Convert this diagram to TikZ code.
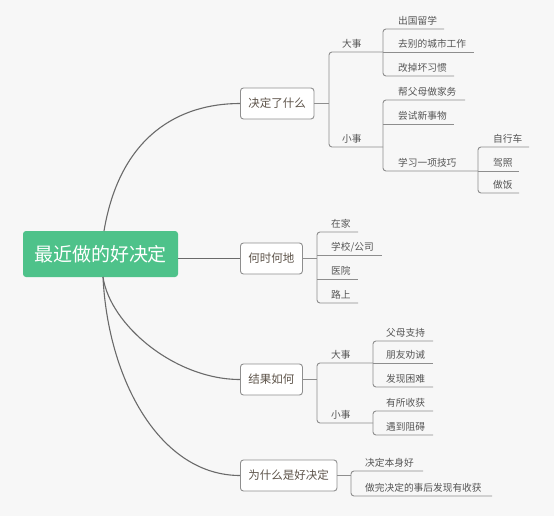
\documentclass[tikz,border=0pt]{standalone}
\usepackage{fontspec}
\setmainfont{Noto Sans CJK SC}
\definecolor{bg}{HTML}{F7F7F7}
\definecolor{rootgreen}{HTML}{4EC28A}
\definecolor{curvec}{HTML}{6A6A6A}
\definecolor{linec}{HTML}{8E8E8E}
\definecolor{leaftext}{HTML}{555555}
\definecolor{boxtext}{HTML}{5E544A}
\newcommand\lf[6]{%
  \node[leaf] (#1) at (#3,#5-4.5) {#6};
  \coordinate (#1w) at (#2,#5);
  \coordinate (#1e) at (#4,#5);}
\begin{document}
\begin{tikzpicture}[x=1pt,y=-1pt,
  rootbox/.style={fill=rootgreen, rounded corners=3pt, minimum width=155pt, minimum height=46pt,
    text=white, font=\fontsize{19}{22}\selectfont, inner sep=0pt},
  topic/.style={draw=linec, line width=0.9pt, fill=white, rounded corners=3pt, minimum height=31pt,
    inner xsep=8pt, inner ysep=0pt, font=\fontsize{11.5}{13}\selectfont, text=boxtext, anchor=west},
  leaf/.style={anchor=base west, inner sep=0pt, font=\fontsize{9.7}{11}\selectfont, text=leaftext},
  curve/.style={draw=curvec, line width=1.1pt},
  link/.style={draw=linec, line width=1.2pt},
  uline/.style={draw=linec, line width=0.9pt},
  bracket/.style={uline, rounded corners=3pt}]
\fill[bg] (0,0) rectangle (554,516);
\useasboundingbox (0,0) rectangle (554,516);

% root and topics
\node[rootbox] (root) at (100.5,254) {最近做的好决定};
\node[topic] (t1) at (240,103.5) {决定了什么};
\node[topic] (t2) at (240,258.5) {何时何地};
\node[topic] (t3) at (240,379.5) {结果如何};
\node[topic] (t4) at (240,475.5) {为什么是好决定};

\coordinate (r1) at (104,231);
\coordinate (r3) at (103,277);
\draw[curve] (r1) .. controls (120,135) and (180,103.5) .. (t1.west);
\draw[curve] (t2.west -| root.east) -- (t2.west);
\draw[curve] (r3) .. controls (110,325) and (175,379.5) .. (t3.west);
\draw[curve] (r3) .. controls (108,380) and (160,475.5) .. (t4.west);

% branch 1
\coordinate (j1) at (329,103.5);
\draw[link] (t1.east) -- (j1);
\lf{a}{329}{342}{383}{52}{大事}
\lf{b}{329}{342}{383}{147}{小事}
\draw[bracket] (ae) -- (aw) -- (bw) -- (be);
\lf{a1}{383}{398}{444}{29}{出国留学}
\lf{a2}{383}{398}{474}{52}{去别的城市工作}
\lf{a3}{383}{398}{454}{76}{改掉坏习惯}
\draw[bracket] (a1e) -- (a1w) -- (a3w) -- (a3e);
\draw[uline] (a2w) -- (a2e);
\lf{b1}{383}{398}{465}{100}{帮父母做家务}
\lf{b2}{383}{398}{454}{124}{尝试新事物}
\lf{b3}{383}{398}{478}{171}{学习一项技巧}
\draw[bracket] (b1e) -- (b1w) -- (b3w) -- (b3e);
\draw[uline] (b2w) -- (b2e);
\lf{c1}{478}{493}{529}{147}{自行车}
\lf{c2}{478}{493}{519}{171}{驾照}
\lf{c3}{478}{493}{519}{193}{做饭}
\draw[bracket] (c1e) -- (c1w) -- (c3w) -- (c3e);
\draw[uline] (c2w) -- (c2e);

% branch 2
\coordinate (j2) at (317,258.5);
\draw[link] (t2.east) -- (j2);
\lf{d1}{317}{331}{358}{232}{在家}
\lf{d2}{317}{331}{382}{255}{学校/公司}
\lf{d3}{317}{331}{358}{279}{医院}
\lf{d4}{317}{331}{358}{303}{路上}
\draw[bracket] (d1e) -- (d1w) -- (d4w) -- (d4e);
\draw[uline] (d2w) -- (d2e);
\draw[uline] (d3w) -- (d3e);

% branch 3
\coordinate (j3) at (317,379.5);
\draw[link] (t3.east) -- (j3);
\lf{e}{317}{331}{373}{363}{大事}
\lf{f}{317}{331}{373}{423}{小事}
\draw[bracket] (ee) -- (ew) -- (fw) -- (fe);
\lf{e1}{373}{386}{433}{341}{父母支持}
\lf{e2}{373}{386}{433}{363}{朋友劝诫}
\lf{e3}{373}{386}{433}{387}{发现困难}
\draw[bracket] (e1e) -- (e1w) -- (e3w) -- (e3e);
\draw[uline] (e2w) -- (e2e);
\lf{f1}{373}{386}{433}{411}{有所收获}
\lf{f2}{373}{386}{433}{435}{遇到阻碍}
\draw[bracket] (f1e) -- (f1w) -- (f2w) -- (f2e);

% branch 4
\coordinate (j4) at (351,475.5);
\draw[link] (t4.east) -- (j4);
\lf{g1}{351}{365}{423}{471}{决定本身好}
\lf{g2}{351}{365}{492}{496}{做完决定的事后发现有收获}
\draw[bracket] (g1e) -- (g1w) -- (g2w) -- (g2e);
\end{tikzpicture}
\end{document}
